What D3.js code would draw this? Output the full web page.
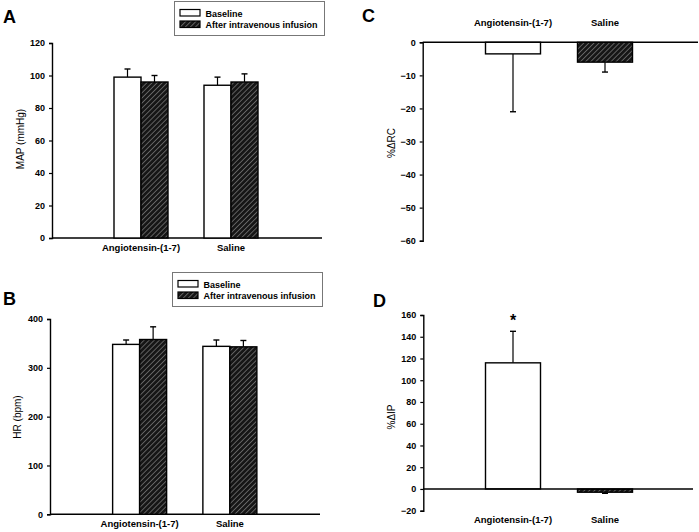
<!DOCTYPE html>
<html>
<head>
<meta charset="utf-8">
<script src="https://cdn.jsdelivr.net/npm/d3@7"></script>
<style>
  body { margin: 0; background: #fff; }
  svg { display: block; font-family: "Liberation Sans", Arial, sans-serif; }
  .tick text { font-weight: bold; font-size: 9px; }
</style>
</head>
<body>
<div id="chart"></div>
<script>
// groups and series
const groups = ["Angiotensin-(1-7)", "Saline"];
const series = ["Baseline", "After intravenous infusion"];

// A: MAP (mmHg), [baseline, after] per group
const mapMean = [[99, 96], [94, 96]];
const mapErr = [[5, 4], [5, 5]];
const mapTicks = [0, 20, 40, 60, 80, 100, 120];

// B: HR (bpm)
const hrMean = [[348, 358], [344, 343]];
const hrErr = [[9, 26], [13, 13]];
const hrTicks = [0, 100, 200, 300, 400];

// C: %ΔRC
const rcMean = [-3.5, -6];
const rcErr = [17.5, 3];
const rcTicks = [0, -10, -20, -30, -40, -50, -60];

// D: %ΔIP
const ipMean = [116, -3];
const ipErr = [29, 1];
const ipTicks = [-20, 0, 20, 40, 60, 80, 100, 120, 140, 160];

const W = 699, H = 532;

const svg = d3.select("#chart")
    .append("svg")
    .attr("width", W)
    .attr("height", H);

// hatch pattern
const pat = svg.append("defs").append("pattern")
    .attr("id", "hatch")
    .attr("patternUnits", "userSpaceOnUse")
    .attr("width", 3.6)
    .attr("height", 3.6)
    .attr("patternTransform", "rotate(45)");
pat.append("rect").attr("width", 3.6).attr("height", 3.6).attr("fill", "#161616");
pat.append("line")
    .attr("x1", 0).attr("y1", 0).attr("x2", 0).attr("y2", 3.6)
    .attr("stroke", "#a8a8a8").attr("stroke-width", 1);

function fillFor(i) { return i === 0 ? "#fff" : "url(#hatch)"; }

function panelLetter(text, x, y) {
    svg.append("text")
        .attr("x", x).attr("y", y)
        .attr("font-size", 18).attr("font-weight", "bold")
        .text(text);
}

function yAxis(y, ticks, x0) {
    const g = svg.append("g")
        .attr("transform", `translate(${x0},0)`)
        .call(d3.axisLeft(y).tickValues(ticks).tickSize(3).tickPadding(4).tickFormat(d3.format("d")));
    g.select(".domain").attr("stroke-width", 1.4);
    g.selectAll(".tick line").attr("stroke-width", 1.2);
    return g;
}

function yTitle(text, x, yc) {
    svg.append("text")
        .attr("transform", `translate(${x},${yc}) rotate(-90)`)
        .attr("text-anchor", "middle")
        .attr("font-size", 10)
        .text(text);
}

function catLabels(x, ypos) {
    svg.append("g").selectAll("text")
        .data(groups)
        .join("text")
        .attr("x", d => x(d) + x.bandwidth() / 2)
        .attr("y", ypos)
        .attr("text-anchor", "middle")
        .attr("font-size", 9.5)
        .attr("font-weight", "bold")
        .text(d => d);
}

function legend(x, y) {
    const g = svg.append("g").attr("transform", `translate(${x},${y})`);
    g.append("rect")
        .attr("width", 150).attr("height", 34)
        .attr("fill", "#fff").attr("stroke", "#777").attr("stroke-width", 1);
    series.forEach((s, i) => {
        g.append("rect")
            .attr("x", 5.5).attr("y", 8 + i * 11.5)
            .attr("width", 20).attr("height", 6.5)
            .attr("fill", fillFor(i)).attr("stroke", "#000").attr("stroke-width", 1.2);
        g.append("text")
            .attr("x", 31).attr("y", 15 + i * 11.5)
            .attr("font-size", 9).attr("font-weight", "bold")
            .text(s);
    });
}

function errBar(cx, yFrom, yTo, capW) {
    svg.append("line")
        .attr("x1", cx).attr("x2", cx).attr("y1", yFrom).attr("y2", yTo)
        .attr("stroke", "#000").attr("stroke-width", 1.2);
    svg.append("line")
        .attr("x1", cx - capW / 2).attr("x2", cx + capW / 2).attr("y1", yTo).attr("y2", yTo)
        .attr("stroke", "#000").attr("stroke-width", 1.4);
}

// grouped chart (A, B)
function groupedPanel(opt) {
    const y = d3.scaleLinear().domain(opt.domain).range([opt.yBot, opt.yTop]);
    const x = d3.scaleBand().domain(groups).range(opt.bandRange);
    const inner = d3.scaleBand().domain(d3.range(series.length)).range([0, opt.barW * 2]);

    yAxis(y, opt.ticks, opt.x0);
    svg.append("line")
        .attr("x1", opt.x0).attr("x2", opt.x1)
        .attr("y1", y(0)).attr("y2", y(0))
        .attr("stroke", "#000").attr("stroke-width", 1.4);

    groups.forEach((grp, gi) => {
        const left = x(grp) + x.bandwidth() / 2 - opt.barW;
        series.forEach((s, si) => {
            const v = opt.mean[gi][si];
            const bx = left + inner(si);
            errBar(bx + opt.barW / 2, y(v), y(v + opt.err[gi][si]), 6);
            svg.append("rect")
                .attr("x", bx).attr("y", y(v))
                .attr("width", opt.barW).attr("height", y(0) - y(v))
                .attr("fill", fillFor(si)).attr("stroke", "#000").attr("stroke-width", 1.4);
        });
    });
    catLabels(x, opt.labelY);
}

// single-series chart (C, D)
function singlePanel(opt) {
    const y = d3.scaleLinear().domain(opt.domain).range([opt.yBot, opt.yTop]);
    const x = d3.scaleBand().domain(groups).range(opt.bandRange);

    yAxis(y, opt.ticks, opt.x0);

    groups.forEach((grp, gi) => {
        const v = opt.mean[gi];
        const cx = x(grp) + x.bandwidth() / 2;
        const e = v >= 0 ? v + opt.err[gi] : v - opt.err[gi];
        errBar(cx, y(v), y(e), 6);
        svg.append("rect")
            .attr("x", cx - opt.barW / 2).attr("y", Math.min(y(v), y(0)))
            .attr("width", opt.barW).attr("height", Math.abs(y(0) - y(v)))
            .attr("fill", fillFor(gi)).attr("stroke", "#000").attr("stroke-width", 1.4);
    });

    svg.append("line")
        .attr("x1", opt.x0).attr("x2", opt.x1)
        .attr("y1", y(0)).attr("y2", y(0))
        .attr("stroke", "#000").attr("stroke-width", 1.4);

    if (opt.star) {
        svg.append("text")
            .attr("x", x(groups[0]) + x.bandwidth() / 2)
            .attr("y", y(opt.star) + 11)
            .attr("text-anchor", "middle")
            .attr("font-size", 16).attr("font-weight", "bold")
            .text("*");
    }
    catLabels(x, opt.labelY);
}

// A
panelLetter("A", 3, 23);
legend(174.5, 1.5);
groupedPanel({
    domain: [0, 120], ticks: mapTicks, yTop: 43, yBot: 238,
    x0: 52, x1: 322, bandRange: [96, 276], barW: 27,
    mean: mapMean, err: mapErr, labelY: 251
});
yTitle("MAP (mmHg)", 24, 139);

// B
panelLetter("B", 3, 305);
legend(172.5, 272.5);
groupedPanel({
    domain: [0, 400], ticks: hrTicks, yTop: 319, yBot: 514.3,
    x0: 50, x1: 320, bandRange: [94.5, 275], barW: 27,
    mean: hrMean, err: hrErr, labelY: 527
});
yTitle("HR (bpm)", 21, 417);

// C
panelLetter("C", 362, 22);
singlePanel({
    domain: [-60, 0], ticks: rcTicks, yTop: 42.3, yBot: 240.7,
    x0: 422.7, x1: 698, bandRange: [467, 651], barW: 55,
    mean: rcMean, err: rcErr, labelY: 26
});
yTitle("%ΔRC", 395, 143);

// D
panelLetter("D", 373, 307);
singlePanel({
    domain: [-20, 160], ticks: ipTicks, yTop: 315, yBot: 510.7,
    x0: 423.3, x1: 693, bandRange: [467, 651], barW: 55,
    mean: ipMean, err: ipErr, labelY: 523, star: 160
});
yTitle("%ΔIP", 395, 417);
</script>
</body>
</html>
